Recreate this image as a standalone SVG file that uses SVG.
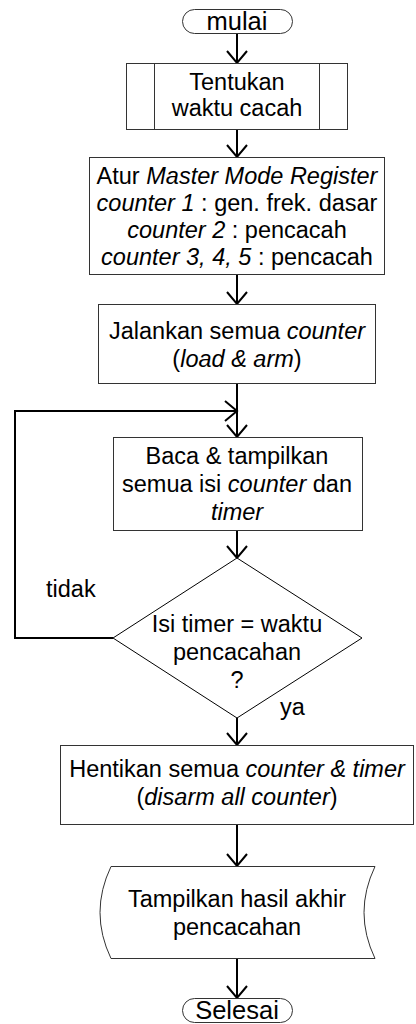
<svg xmlns="http://www.w3.org/2000/svg" width="416" height="1024" viewBox="0 0 416 1024">
  <style>
    text { font-family: "Liberation Sans", Arial, sans-serif; font-size: 23.5px; fill: #000; }
    .c { text-anchor: middle; }
    .t { font-size: 25.5px; }
    .i { font-style: italic; }
    .box { fill: #fff; stroke: #333; stroke-width: 1; }
    .dia { fill: #fff; stroke: #000; stroke-width: 1; }
    .flow { fill: none; stroke: #000; stroke-width: 2; marker-end: url(#arrow); }
  </style>
  <defs>
    <marker id="arrow" markerUnits="userSpaceOnUse" viewBox="-14 -12 16 24" refX="0" refY="0" markerWidth="16" markerHeight="24" orient="auto">
      <path d="M-12,-10 L0,0 L-12,10" fill="none" stroke="#000" stroke-width="2"/>
    </marker>
  </defs>

  <!-- connectors -->
  <g id="connectors">
    <path class="flow" d="M237,33 V63"/>
    <path class="flow" d="M237,130 V157"/>
    <path class="flow" d="M237,275 V304"/>
    <path class="flow" d="M237,384 V437"/>
    <path class="flow" d="M237,531 V558"/>
    <path class="flow" d="M113,638 H15 V411 H237"/>
    <path class="flow" d="M237,718 V745"/>
    <path class="flow" d="M237,825 V866"/>
    <path class="flow" d="M237,959 V998"/>
  </g>

  <g id="start">
    <rect class="box" x="182.5" y="9.5" width="110" height="24" rx="12" ry="12"/>
    <text class="c t" x="237" y="30">mulai</text>
  </g>

  <g id="set-time">
    <rect class="box" x="126.5" y="63.5" width="221" height="66"/>
    <line class="box" x1="154.5" y1="63.5" x2="154.5" y2="129.5"/>
    <line class="box" x1="319.5" y1="63.5" x2="319.5" y2="129.5"/>
    <text class="c" x="237" y="90">Tentukan</text>
    <text class="c" x="237" y="116">waktu cacah</text>
  </g>

  <g id="master-mode">
    <rect class="box" x="89.5" y="157.5" width="295" height="117"/>
    <text class="c" x="237" y="184">Atur <tspan class="i">Master Mode Register</tspan></text>
    <text class="c" x="237" y="211"><tspan class="i">counter 1</tspan> : gen. frek. dasar</text>
    <text class="c" x="237" y="238"><tspan class="i">counter 2</tspan> : pencacah</text>
    <text class="c" x="237" y="265"><tspan class="i">counter 3, 4, 5</tspan> : pencacah</text>
  </g>

  <g id="run-counters">
    <rect class="box" x="98.5" y="304.5" width="277" height="79"/>
    <text class="c" x="237" y="339">Jalankan semua <tspan class="i">counter</tspan></text>
    <text class="c" x="237" y="367">(<tspan class="i">load &amp; arm</tspan>)</text>
  </g>

  <g id="read-show">
    <rect class="box" x="113.5" y="437.5" width="249" height="93"/>
    <text class="c" x="237" y="464">Baca &amp; tampilkan</text>
    <text class="c" x="237" y="492">semua isi <tspan class="i">counter</tspan> dan</text>
    <text class="c i" x="237" y="520">timer</text>
  </g>

  <g id="check-timer">
    <polygon class="dia" points="237,558 362,638 237,718 113,638"/>
    <text class="c" x="237" y="632">Isi timer = waktu</text>
    <text class="c" x="237" y="660">pencacahan</text>
    <text class="c" x="237" y="688">?</text>
  </g>

  <g id="labels">
    <text x="46" y="597">tidak</text>
    <text x="280" y="715">ya</text>
  </g>

  <g id="stop-counters">
    <rect class="box" x="60.5" y="745.5" width="353" height="79"/>
    <text class="c" x="237" y="777">Hentikan semua <tspan class="i">counter &amp; timer</tspan></text>
    <text class="c" x="237" y="805">(<tspan class="i">disarm all counter</tspan>)</text>
  </g>

  <g id="show-result">
    <path class="box" d="M111,866.5 H375 Q353,912.5 375,958.5 H111 Q89,912.5 111,866.5 Z"/>
    <text class="c" x="237" y="907">Tampilkan hasil akhir</text>
    <text class="c" x="237" y="935">pencacahan</text>
  </g>

  <g id="end">
    <rect class="box" x="182.5" y="998.5" width="110" height="24" rx="12" ry="12"/>
    <text class="c t" x="237" y="1019">Selesai</text>
  </g>
</svg>
